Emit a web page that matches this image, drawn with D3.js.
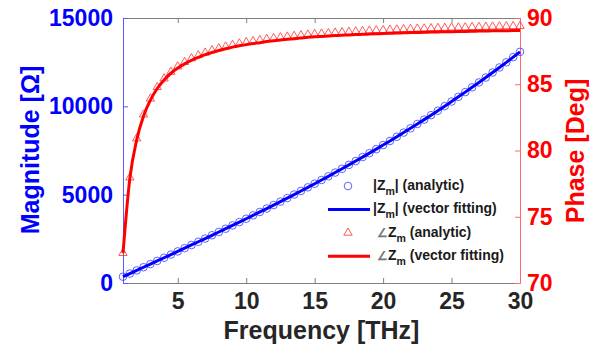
<!DOCTYPE html>
<html>
<head>
<meta charset="utf-8">
<script src="https://cdn.jsdelivr.net/npm/d3@7/dist/d3.min.js"></script>
<style>
  body { margin: 0; background: #fff; }
  text { font-family: "Liberation Sans", Arial, sans-serif; font-weight: bold; }
</style>
</head>
<body>
<svg id="chart" width="599" height="350"></svg>
<script>
// --- Data ---
const freq = [1, 1.5, 2, 2.5, 3, 3.5, 4, 4.5, 5, 5.5, 6, 6.5, 7, 7.5, 8, 8.5, 9, 9.5, 10,
  10.5, 11, 11.5, 12, 12.5, 13, 13.5, 14, 14.5, 15, 15.5, 16, 16.5, 17, 17.5, 18, 18.5, 19, 19.5, 20,
  20.5, 21, 21.5, 22, 22.5, 23, 23.5, 24, 24.5, 25, 25.5, 26, 26.5, 27, 27.5, 28, 28.5, 29, 29.5, 30];

const magAnalytic = [357, 535, 713, 892, 1071, 1249, 1429, 1609, 1789, 1970, 2152, 2334, 2517, 2701, 2887, 3073, 3260, 3448, 3638,
  3829, 4022, 4215, 4411, 4608, 4807, 5007, 5210, 5414, 5620, 5829, 6039, 6252, 6466, 6684, 6903, 7125, 7350, 7577, 7807,
  8040, 8276, 8514, 8756, 9000, 9248, 9499, 9753, 10011, 10272, 10536, 10804, 11076, 11351, 11630, 11913, 12200, 12491, 12786, 13085];

// the fitted magnitude sits right on top of the analytic points
const magFit = magAnalytic;

const phaseAnalytic = [72.26, 77.96, 80.91, 82.71, 83.91, 84.78, 85.43, 85.93, 86.34, 86.67, 86.95, 87.18, 87.38, 87.56, 87.71, 87.84, 87.96, 88.07, 88.17,
  88.25, 88.33, 88.41, 88.47, 88.53, 88.59, 88.64, 88.69, 88.74, 88.78, 88.82, 88.85, 88.89, 88.92, 88.95, 88.98, 89.01, 89.04, 89.06, 89.08,
  89.11, 89.13, 89.15, 89.17, 89.19, 89.20, 89.22, 89.24, 89.25, 89.27, 89.28, 89.29, 89.31, 89.32, 89.33, 89.35, 89.36, 89.37, 89.38, 89.39];

const phaseFit = [72.26, 77.9, 80.8, 82.6, 83.8, 84.68, 85.33, 85.83, 86.22, 86.54, 86.81, 87.03, 87.23, 87.4, 87.55, 87.68, 87.8, 87.9, 87.99,
  88.07, 88.14, 88.22, 88.28, 88.34, 88.39, 88.44, 88.49, 88.54, 88.58, 88.61, 88.64, 88.67, 88.7, 88.72, 88.75, 88.77, 88.79, 88.81, 88.83,
  88.85, 88.87, 88.88, 88.9, 88.91, 88.92, 88.94, 88.95, 88.96, 88.97, 88.98, 88.99, 89.0, 89.01, 89.02, 89.03, 89.03, 89.04, 89.05, 89.06];

const xTicks = [5, 10, 15, 20, 25, 30];
const magTicks = [0, 5000, 10000, 15000];
const phaseTicks = [70, 75, 80, 85, 90];

const svg = d3.select("#chart");
const margin = { top: 18, right: 79, bottom: 67, left: 123 };
const width = +svg.attr("width");
const height = +svg.attr("height");
const innerW = width - margin.left - margin.right;
const innerH = height - margin.top - margin.bottom;

const g = svg.append("g").attr("transform", `translate(${margin.left},${margin.top})`);

// --- Scales ---
const x = d3.scaleLinear().domain([1, 30]).range([0, innerW]);
const yMag = d3.scaleLinear().domain([0, 15000]).range([innerH, 0]);
const yPh = d3.scaleLinear().domain([70, 90]).range([innerH, 0]);

const BLUE = "#0000ff", RED = "#ff0000", DARK = "#262626";

// --- Axes ---
const xAxisBottom = g.append("g")
  .attr("transform", `translate(0,${innerH})`)
  .call(d3.axisBottom(x).tickValues(xTicks).tickSizeInner(-5).tickSizeOuter(0).tickPadding(10));
xAxisBottom.select(".domain").attr("stroke", "#7f7f7f");
xAxisBottom.selectAll(".tick line").attr("stroke", "#7f7f7f");
xAxisBottom.selectAll("text").attr("font-size", 23).attr("fill", DARK);

const xAxisTop = g.append("g")
  .call(d3.axisTop(x).tickValues(xTicks).tickSizeInner(-5).tickSizeOuter(0).tickFormat(""));
xAxisTop.select(".domain").attr("stroke", "#7f7f7f");
xAxisTop.selectAll(".tick line").attr("stroke", "#7f7f7f");

const magAxis = g.append("g")
  .call(d3.axisLeft(yMag).tickValues(magTicks).tickFormat(d3.format("d"))
    .tickSizeInner(-5).tickSizeOuter(0).tickPadding(10));
magAxis.select(".domain").attr("stroke", "#5a5aff");
magAxis.selectAll(".tick line").attr("stroke", "#5a5aff");
magAxis.selectAll("text").attr("font-size", 23).attr("fill", BLUE);

const phAxis = g.append("g")
  .attr("transform", `translate(${innerW},0)`)
  .call(d3.axisRight(yPh).tickValues(phaseTicks).tickSizeInner(-5).tickSizeOuter(0).tickPadding(7));
phAxis.select(".domain").attr("stroke", "#ff6a6a");
phAxis.selectAll(".tick line").attr("stroke", "#ff6a6a");
phAxis.selectAll("text").attr("font-size", 23).attr("fill", RED);

// --- Magnitude (left axis) ---
const magLine = d3.line().x((d, i) => x(freq[i])).y(d => yMag(d));

g.append("g").selectAll("circle")
  .data(magAnalytic)
  .join("circle")
  .attr("cx", (d, i) => x(freq[i]))
  .attr("cy", d => yMag(d))
  .attr("r", 3.8)
  .attr("fill", "none")
  .attr("stroke", "#3a3aff")
  .attr("stroke-width", 0.8);

g.append("path")
  .datum(magFit)
  .attr("fill", "none")
  .attr("stroke", BLUE)
  .attr("stroke-width", 3)
  .attr("d", magLine);

// --- Phase (right axis) ---
const tri = d3.symbol().type(d3.symbolTriangle).size(30);

g.append("g").selectAll("path")
  .data(phaseAnalytic)
  .join("path")
  .attr("transform", (d, i) => `translate(${x(freq[i])},${yPh(d)})`)
  .attr("d", tri)
  .attr("fill", "none")
  .attr("stroke", "#ff3030")
  .attr("stroke-width", 0.8);

const phLine = d3.line().x((d, i) => x(freq[i])).y(d => yPh(d)).curve(d3.curveMonotoneX);

g.append("path")
  .datum(phaseFit)
  .attr("fill", "none")
  .attr("stroke", RED)
  .attr("stroke-width", 3)
  .attr("d", phLine);

// --- Axis titles ---
svg.append("text")
  .attr("transform", "translate(39,150) rotate(-90)")
  .attr("text-anchor", "middle")
  .attr("font-size", 25)
  .attr("fill", BLUE)
  .text("Magnitude [Ω]");

svg.append("text")
  .attr("transform", "translate(584,151) rotate(-90)")
  .attr("text-anchor", "middle")
  .attr("font-size", 25)
  .attr("fill", RED)
  .text("Phase [Deg]");

svg.append("text")
  .attr("x", margin.left + innerW / 2)
  .attr("y", 339)
  .attr("text-anchor", "middle")
  .attr("font-size", 25)
  .attr("fill", DARK)
  .text("Frequency [THz]");

// --- Legend ---
const legendRows = [
  { kind: "circle", pre: "|Z", post: "| (analytic)", color: BLUE },
  { kind: "line", pre: "|Z", post: "| (vector fitting)", color: BLUE },
  { kind: "tri", pre: "Z", post: " (analytic)", color: RED, angle: true },
  { kind: "line", pre: "Z", post: " (vector fitting)", color: RED, angle: true }
];

const legend = svg.append("g").attr("transform", "translate(328,186)");
const rows = legend.selectAll("g")
  .data(legendRows)
  .join("g")
  .attr("transform", (d, i) => `translate(0,${i * 23.4})`);

rows.filter(d => d.kind === "circle").append("circle")
  .attr("cx", 20).attr("r", 3.8)
  .attr("fill", "none").attr("stroke", "#3a3aff").attr("stroke-width", 0.8);

rows.filter(d => d.kind === "tri").append("path")
  .attr("transform", "translate(20,0)")
  .attr("d", tri)
  .attr("fill", "none").attr("stroke", "#ff3030").attr("stroke-width", 0.8);

rows.filter(d => d.kind === "line").append("line")
  .attr("x1", 0).attr("x2", 42)
  .attr("stroke", d => d.color).attr("stroke-width", 3);

rows.filter(d => d.angle).append("text")
  .attr("x", 49).attr("y", 4)
  .attr("font-size", 12)
  .attr("font-weight", "normal")
  .attr("fill", "#777")
  .text("∠");

const label = rows.append("text")
  .attr("x", d => d.angle ? 60 : 45)
  .attr("y", 4)
  .attr("font-size", 14)
  .attr("fill", "#1a1a1a");
label.append("tspan").text(d => d.pre);
label.append("tspan").attr("dy", 5).attr("font-size", 10.5).text("m");
label.append("tspan").attr("dy", -5).text(d => d.post);
</script>
</body>
</html>
